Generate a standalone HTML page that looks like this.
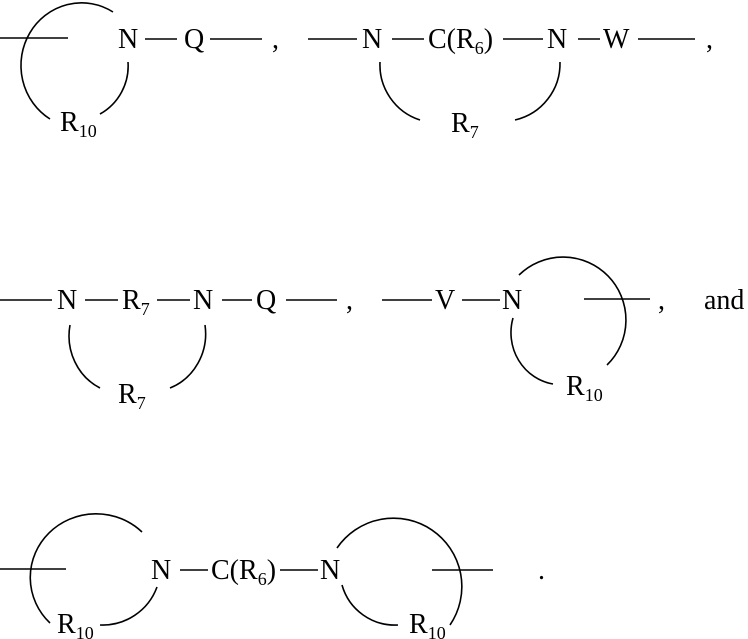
<!DOCTYPE html>
<html><head><style>body{margin:0;background:#fff}svg{display:block}text{font-family:"Liberation Serif",serif;font-size:28px;fill:#000}.s{font-size:18px}</style></head><body>
<svg width="748" height="639" viewBox="0 0 748 639" xmlns="http://www.w3.org/2000/svg" fill="none" stroke="#000" stroke-width="1.6">
<line x1="0" y1="38" x2="68" y2="38"/>
<path d="M113,12 A58,60 0 0 0 50,119"/>
<path d="M128,62 A55,55 0 0 1 100,114"/>
<line x1="145" y1="39" x2="177" y2="39"/>
<line x1="210" y1="39" x2="262" y2="39"/>
<line x1="308" y1="39" x2="357" y2="39"/>
<line x1="392" y1="39" x2="424" y2="39"/>
<line x1="503" y1="39" x2="543" y2="39"/>
<line x1="578" y1="39" x2="600" y2="39"/>
<line x1="638" y1="39" x2="695" y2="39"/>
<path d="M380,62 A58,58 0 0 0 420,120"/>
<path d="M560,62 A58,58 0 0 1 515,120"/>
<line x1="0" y1="300" x2="52" y2="300"/>
<line x1="85" y1="300" x2="118" y2="300"/>
<line x1="157" y1="300" x2="190" y2="300"/>
<line x1="222" y1="300" x2="252" y2="300"/>
<line x1="286" y1="300" x2="337" y2="300"/>
<path d="M70,325 A55,58 0 0 0 100,388"/>
<path d="M205,325 A55,58 0 0 1 170,388"/>
<line x1="382" y1="300" x2="432" y2="300"/>
<line x1="462" y1="300" x2="500" y2="300"/>
<line x1="584" y1="299" x2="650" y2="299"/>
<path d="M519,275 A58,58 0 1 1 607,365"/>
<path d="M513,318 A50,52 0 0 0 553,384"/>
<line x1="0" y1="569" x2="66" y2="569"/>
<path d="M142,532 A64,62 0 0 0 50,623"/>
<path d="M157,587 A58,58 0 0 1 100,625"/>
<line x1="180" y1="570" x2="208" y2="570"/>
<line x1="280" y1="570" x2="318" y2="570"/>
<path d="M337,548 A60,60 0 0 1 450,625"/>
<path d="M342,585 A55,55 0 0 0 398,625"/>
<line x1="432" y1="570" x2="493" y2="570"/>
<g stroke="none">
<text x="118" y="48">N</text><text x="184" y="48">Q</text><text x="272" y="48">,</text>
<text x="60" y="131">R<tspan class="s" dy="6">10</tspan></text>
<text x="362" y="48">N</text><text x="428" y="48">C(R<tspan class="s" dy="6">6</tspan><tspan dy="-6">)</tspan></text>
<text x="547" y="48">N</text><text x="603" y="48">W</text><text x="706" y="48">,</text>
<text x="451" y="132">R<tspan class="s" dy="6">7</tspan></text>
<text x="57" y="309">N</text><text x="122" y="309">R<tspan class="s" dy="6">7</tspan></text>
<text x="193" y="309">N</text><text x="256" y="309">Q</text><text x="346" y="309">,</text>
<text x="118" y="403">R<tspan class="s" dy="6">7</tspan></text>
<text x="435" y="309">V</text><text x="502" y="309">N</text><text x="658" y="309">,</text>
<text x="704" y="309">and</text>
<text x="566" y="395">R<tspan class="s" dy="6">10</tspan></text>
<text x="151" y="579">N</text><text x="211" y="579">C(R<tspan class="s" dy="6">6</tspan><tspan dy="-6">)</tspan></text>
<text x="320" y="579">N</text><text x="538" y="579">.</text>
<text x="57" y="633">R<tspan class="s" dy="6">10</tspan></text>
<text x="409" y="633">R<tspan class="s" dy="6">10</tspan></text>
</g>
</svg>
</body></html>
